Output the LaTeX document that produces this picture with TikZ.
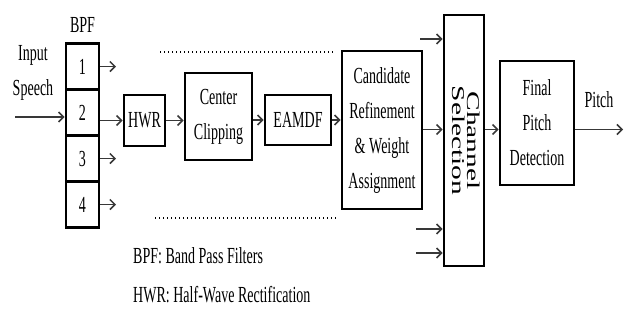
\documentclass[tikz,border=0pt]{standalone}
\usepackage{fontspec}
\setmainfont[FakeStretch=0.61]{Liberation Serif}
\newfontfamily\plainserif{Liberation Serif}
\usetikzlibrary{arrows.meta}
\begin{document}
\begin{tikzpicture}[x=1pt,y=-1pt,
  box/.style={draw, line width=2.8pt, inner sep=0pt, align=center,
    font=\fontsize{23}{35}\selectfont},
  lbl/.style={inner sep=0pt, align=center, font=\fontsize{23}{35}\selectfont},
  arr/.style={-{Straight Barb[length=5pt,width=10pt]}, line width=1.5pt, black!78},
  dots/.style={line width=1.2pt, dash pattern=on 1.3pt off 2.7pt}]
\useasboundingbox[fill=white] (0,0) rectangle (627,322);

% band pass filters
\node[box, minimum width=33pt, minimum height=46pt] (b1) at (82.5,66.5) {1};
\node[box, minimum width=33pt, minimum height=46pt] (b2) at (82.5,112.5) {2};
\node[box, minimum width=33pt, minimum height=46pt] (b3) at (82.5,158.5) {3};
\node[box, minimum width=33pt, minimum height=46pt] (b4) at (82.5,204.5) {4};
\node[lbl] (bpf) at (82.5,25) {BPF};
\node[lbl] (input) at (33,73) {Input\\Speech};

% processing chain
\node[box, minimum width=41pt, minimum height=51pt] (hwr) at (144.5,120.5) {HWR};
\node[box, minimum width=67pt, minimum height=87pt] (cc) at (218.5,116.5) {Center\\Clipping};
\node[box, minimum width=66pt, minimum height=50pt] (eamdf) at (298,120) {EAMDF};
\node[box, minimum width=80pt, minimum height=158pt] (cand) at (382,130) {Candidate\\Refinement\\\& Weight\\Assignment};
\node[box, minimum width=40pt, minimum height=251pt] (chan) at (464,140.5) {};
\node[inner sep=0pt, rotate=-90] (chantext) at (chan.center)
  {\scalebox{1}[0.61]{\plainserif\fontsize{29.5}{28}\selectfont
   \begin{tabular}{@{}c@{}}Channel\\[-4pt]Selection\end{tabular}}};
\node[box, minimum width=74pt, minimum height=124pt] (final) at (537,123) {Final\\Pitch\\Detection};
\node[lbl] (pitch) at (599,100) {Pitch};

% legend
\node[lbl, anchor=base west] (leg1) at (133,263) {BPF: Band Pass Filters};
\node[lbl, anchor=base west] (leg2) at (133,302) {HWR: Half-Wave Rectification};

% free ends
\coordinate (inp) at (15,117);
\coordinate (o1) at (116,66.5);
\coordinate (o3) at (116,158.5);
\coordinate (o4) at (116,204.5);
\coordinate (c1) at (420,39);
\coordinate (c3) at (416,229);
\coordinate (c4) at (416,253);
\coordinate (mainr) at (0,129.5);
\coordinate (pout) at (623,129.5);
\coordinate (d1a) at (160,52);
\coordinate (d1b) at (333,52);
\coordinate (d2a) at (155,218);
\coordinate (d2b) at (338,218);

% connectors
\draw[arr] (inp) -- (inp -| b2.west);
\draw[arr] (b1.east) -- (o1);
\draw[arr] (b3.east) -- (o3);
\draw[arr] (b4.east) -- (o4);
\draw[arr] (b2.east |- hwr.west) -- (hwr.west);
\draw[arr] (hwr.east) -- (hwr.east -| cc.west);
\draw[arr] (cc.east |- eamdf.west) -- (eamdf.west);
\draw[arr] (eamdf.east) -- (eamdf.east -| cand.west);
\draw[arr] (cand.east |- mainr) -- (chan.west |- mainr);
\draw[arr] (c1) -- (c1 -| chan.west);
\draw[arr] (c3) -- (c3 -| chan.west);
\draw[arr] (c4) -- (c4 -| chan.west);
\draw[arr] (chan.east |- mainr) -- (final.west |- mainr);
\draw[arr] (final.east |- mainr) -- (pout);

% dotted lines
\draw[dots] (d1a) -- (d1b);
\draw[dots] (d2a) -- (d2b);
\end{tikzpicture}
\end{document}
